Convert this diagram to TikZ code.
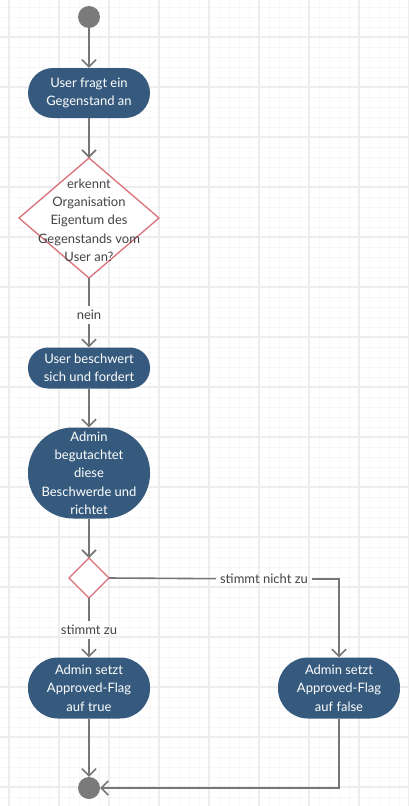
\documentclass[tikz,border=0pt]{standalone}
\usepackage{fontspec}
\setmainfont{Lato}
\usepackage{tikz}
\usetikzlibrary{arrows.meta}
\definecolor{actblue}{HTML}{365A7D}
\definecolor{decrose}{HTML}{D9707B}
\definecolor{flowgray}{HTML}{767676}
\definecolor{dotgray}{HTML}{7A7A7A}
\definecolor{labelgray}{HTML}{444444}

\begin{document}
\begin{tikzpicture}[x=1pt, y=-1pt,
    every node/.style={font=\fontsize{13}{18.3}\selectfont, align=center, inner sep=0pt},
    act/.style={fill=actblue, text=white, minimum width=122pt, rounded corners=#1},
    decline/.style={draw=decrose, fill=white, line width=1.3pt},
    lbl/.style={text=labelgray, inner sep=4pt},
    dot/.style={circle, fill=dotgray, minimum size=22pt},
    flow/.style={draw=flowgray, line width=1.6pt, -{Straight Barb[length=7pt, width=14pt, line width=1.6pt]}},
    plain/.style={draw=flowgray, line width=1.6pt}]
    \useasboundingbox (0,0) rectangle (409,806);
    \fill[white] (0,0) rectangle (409,806);
    % grid
    \foreach \k in {-1,...,40} {
        \draw[line width=0.8pt, color=black!3] (9+10*\k,0) -- (9+10*\k,806);
    }
    \foreach \k in {-1,...,80} {
        \draw[line width=0.8pt, color=black!3] (0,7+10*\k) -- (409,7+10*\k);
    }
    \foreach \k in {0,...,8} {
        \draw[line width=1.4pt, color=black!7] (9+50*\k,0) -- (9+50*\k,806);
    }
    \foreach \k in {0,...,16} {
        \draw[line width=1.4pt, color=black!7] (0,37+50*\k) -- (409,37+50*\k);
    }

    \node[dot] (start) at (89,17) {};
    \node[act=25pt, minimum height=50pt] (ask) at (89,93) {User fragt ein\\Gegenstand an};
    % decision: ownership
    \path[decline] (89,158) -- (159,218) -- (89,278) -- (19,218) -- cycle;
    \coordinate (q1top) at (89,158);
    \coordinate (q1bot) at (89,278);
    \node[text=labelgray] (q1txt) at (89,220) {erkennt\\Organisation\\Eigentum des\\Gegenstands vom\\User an?};
    \node[lbl] (nein) at (89,315) {nein};
    \node[act=20pt, minimum height=41pt] (complain) at (89,368) {User beschwert\\sich und fordert};
    \node[act=45pt, minimum height=91pt] (review) at (89,473) {Admin\\begutachtet\\diese\\Beschwerde und\\richtet};
    % decision: verdict
    \path[decline] (89,558) -- (109,578) -- (89,598) -- (69,578) -- cycle;
    \coordinate (q2top) at (89,558);
    \coordinate (q2bot) at (89,598);
    \coordinate (q2right) at (109,578);
    \node[lbl] (yes) at (89,630) {stimmt zu};
    \node[lbl] (no) at (264,579) {stimmt nicht zu};
    \node[act=30pt, minimum height=61pt] (settrue) at (89,688) {Admin setzt\\Approved-Flag\\auf true};
    \node[act=30pt, minimum height=61pt] (setfalse) at (339,688) {Admin setzt\\Approved-Flag\\auf false};
    \node[dot] (end) at (89,788) {};

    \path[flow] (start) -- (ask);
    \path[flow] (ask) -- (q1top);
    \path[plain] (q1bot) -- (nein);
    \path[flow] (nein) -- (complain);
    \path[flow] (complain) -- (review);
    \path[flow] (review) -- (q2top);
    \path[plain] (q2bot) -- (yes);
    \path[flow] (yes) -- (settrue);
    \path[plain] (q2right) -- (no);
    \path[flow] (no) -| (setfalse);
    \path[flow] (settrue) -- (end);
    \path[flow] (setfalse) |- (end);
\end{tikzpicture}
\end{document}
